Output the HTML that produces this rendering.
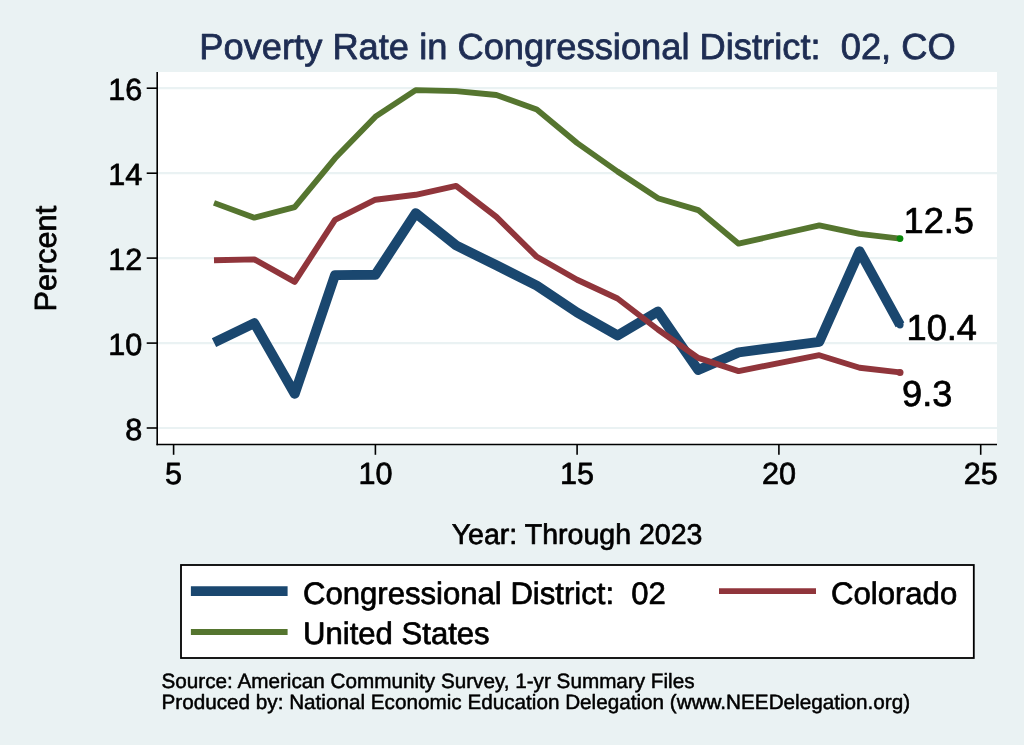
<!DOCTYPE html>
<html><head><meta charset="utf-8"><title>Poverty Rate in Congressional District: 02, CO</title>
<style>
html,body{margin:0;padding:0;background:#eaf2f3;}
svg{display:block;font-family:"Liberation Sans",Arial,Helvetica,sans-serif;}
text{text-rendering:geometricPrecision;stroke:#000;stroke-width:0.7px;stroke-linejoin:round;}
text.t{stroke:#1e2d53;stroke-width:0.8px;}
g.n text{stroke-width:0.5px;}
</style></head><body>
<svg width="1024" height="745" viewBox="0 0 1024 745">
<rect x="0" y="0" width="1024" height="745" fill="#eaf2f3"/>
<rect x="157" y="72" width="840" height="372.5" fill="#ffffff"/>
<g stroke="#eaf2f3" stroke-width="2.2" fill="none">
<line x1="158" x2="997" y1="88.2" y2="88.2"/>
<line x1="158" x2="997" y1="173.2" y2="173.2"/>
<line x1="158" x2="997" y1="258.1" y2="258.1"/>
<line x1="158" x2="997" y1="343.1" y2="343.1"/>
<line x1="158" x2="997" y1="428.0" y2="428.0"/>
</g>
<g fill="none" stroke-linejoin="round" stroke-linecap="butt">
<polyline points="214.0,342.6 254.3,323.1 294.7,393.8 335.0,275.1 375.4,274.7 415.7,213.1 456.1,245.4 496.4,265.3 536.8,285.7 577.1,312.5 617.5,335.4 657.9,311.6 698.2,370.0 738.6,352.4 778.9,347.1 819.3,341.8 859.6,251.3 900.0,324.8" stroke="#1a476f" stroke-width="9.9"/>
<polyline points="214.0,260.2 254.3,259.4 294.7,281.9 335.0,219.9 375.4,199.7 415.7,194.8 456.1,185.9 496.4,216.9 536.8,256.8 577.1,279.8 617.5,298.5 657.9,329.5 698.2,357.9 738.6,371.1 778.9,363.1 819.3,355.2 859.6,367.7 900.0,372.4" stroke="#90353b" stroke-width="5.9"/>
<polyline points="214.0,202.9 254.3,217.7 294.7,207.1 335.0,158.3 375.4,116.7 415.7,90.1 456.1,91.2 496.4,95.0 536.8,109.4 577.1,143.0 617.5,171.5 657.9,198.2 698.2,210.1 738.6,243.7 778.9,234.5 819.3,225.4 859.6,233.9 900.0,238.6" stroke="#55752f" stroke-width="5.8"/>
</g>
<circle cx="900.0" cy="324.8" r="3.6" fill="#1a476f"/>
<circle cx="900.0" cy="372.4" r="3.5" fill="#90353b"/>
<circle cx="900.0" cy="238.6" r="3.4" fill="#0a870a"/>
<g stroke="#000" stroke-width="1.6" fill="none">
<line x1="157.2" x2="157.2" y1="72" y2="445.2"/>
<line x1="156.5" x2="997" y1="444.5" y2="444.5"/>
<line x1="146.7" x2="157.2" y1="88.2" y2="88.2"/>
<line x1="146.7" x2="157.2" y1="173.2" y2="173.2"/>
<line x1="146.7" x2="157.2" y1="258.1" y2="258.1"/>
<line x1="146.7" x2="157.2" y1="343.1" y2="343.1"/>
<line x1="146.7" x2="157.2" y1="428.0" y2="428.0"/>
<line x1="173.6" x2="173.6" y1="444.5" y2="454.8"/>
<line x1="375.4" x2="375.4" y1="444.5" y2="454.8"/>
<line x1="577.1" x2="577.1" y1="444.5" y2="454.8"/>
<line x1="778.9" x2="778.9" y1="444.5" y2="454.8"/>
<line x1="980.7" x2="980.7" y1="444.5" y2="454.8"/>
</g>
<g fill="#000" font-size="30.6px" text-anchor="end">
<text x="142.3" y="100.3">16</text>
<text x="142.3" y="185.2">14</text>
<text x="142.3" y="270.2">12</text>
<text x="142.3" y="355.2">10</text>
<text x="142.3" y="440.1">8</text>
</g>
<g fill="#000" font-size="30.6px" text-anchor="middle">
<text x="173.6" y="483.6">5</text>
<text x="375.4" y="483.6">10</text>
<text x="577.1" y="483.6">15</text>
<text x="778.9" y="483.6">20</text>
<text x="980.7" y="483.6">25</text>
</g>
<text x="577.5" y="59.1" font-size="36.3px" class="t" fill="#1e2d53" text-anchor="middle" xml:space="preserve">Poverty Rate in Congressional District:  02, CO</text>
<text transform="translate(55.5,258.7) rotate(-90)" font-size="30.7px" fill="#000" text-anchor="middle">Percent</text>
<text x="577.1" y="543.5" font-size="28.55px" fill="#000" text-anchor="middle">Year: Through 2023</text>
<g font-size="36.2px" fill="#000">
<text x="903.5" y="232.8">12.5</text>
<text x="906.5" y="339.7">10.4</text>
<text x="902" y="405.7">9.3</text>
</g>
<rect x="181" y="565" width="792.8" height="93" fill="#fff" stroke="#000" stroke-width="1.8"/>
<line x1="190.9" x2="287.6" y1="591.1" y2="591.1" stroke="#1a476f" stroke-width="9.9"/>
<line x1="190.9" x2="287.6" y1="632" y2="632" stroke="#55752f" stroke-width="5.8"/>
<line x1="719" x2="816" y1="591.1" y2="591.1" stroke="#90353b" stroke-width="5.9"/>
<g font-size="31.1px" fill="#000">
<text x="303" y="603.5" xml:space="preserve">Congressional District:  02</text>
<text x="303" y="644">United States</text>
<text x="831" y="603.5">Colorado</text>
</g>
<g class="n" font-size="20.7px" fill="#000">
<text x="161.5" y="688.3">Source: American Community Survey, 1-yr Summary Files</text>
<text x="161.5" y="709.0">Produced by: National Economic Education Delegation (www.NEEDelegation.org)</text>
</g>
</svg>
</body></html>
